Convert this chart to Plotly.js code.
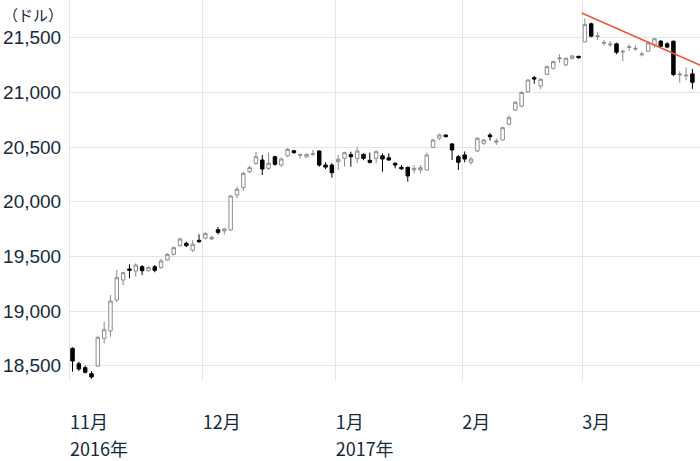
<!DOCTYPE html>
<html>
<head>
<meta charset="utf-8">
<script src="https://cdn.plot.ly/plotly-3.0.1.min.js"></script>
<style>html,body{margin:0;padding:0;background:#fff;}#chart{width:700px;height:461px;}</style>
</head>
<body>
<div id="chart"></div>
<script>
// Trading days (index = position on the axis)
const dates = [
 '2016-11-01','2016-11-02','2016-11-03','2016-11-04','2016-11-07','2016-11-08','2016-11-09','2016-11-10','2016-11-11',
 '2016-11-14','2016-11-15','2016-11-16','2016-11-17','2016-11-18','2016-11-21','2016-11-22','2016-11-23','2016-11-25',
 '2016-11-28','2016-11-29','2016-11-30',
 '2016-12-01','2016-12-02','2016-12-05','2016-12-06','2016-12-07','2016-12-08','2016-12-09','2016-12-12','2016-12-13',
 '2016-12-14','2016-12-15','2016-12-16','2016-12-19','2016-12-20','2016-12-21','2016-12-22','2016-12-23','2016-12-27',
 '2016-12-28','2016-12-29','2016-12-30',
 '2017-01-03','2017-01-04','2017-01-05','2017-01-06','2017-01-09','2017-01-10','2017-01-11','2017-01-12','2017-01-13',
 '2017-01-17','2017-01-18','2017-01-19','2017-01-20','2017-01-23','2017-01-24','2017-01-25','2017-01-26','2017-01-27',
 '2017-01-30','2017-01-31',
 '2017-02-01','2017-02-02','2017-02-03','2017-02-06','2017-02-07','2017-02-08','2017-02-09','2017-02-10','2017-02-13',
 '2017-02-14','2017-02-15','2017-02-16','2017-02-17','2017-02-21','2017-02-22','2017-02-23','2017-02-24','2017-02-27',
 '2017-02-28',
 '2017-03-01','2017-03-02','2017-03-03','2017-03-06','2017-03-07','2017-03-08','2017-03-09','2017-03-10','2017-03-13',
 '2017-03-14','2017-03-15','2017-03-16','2017-03-17','2017-03-20','2017-03-21','2017-03-22','2017-03-23','2017-03-24'
];
const open = [
 18659,18518,18482,18427,18497,18751,18818,19101,19284,
 19385,19366,19406,19369,19406,19397,19467,19519,19598,
 19620,19559,19647,
 19666,19659,19744,19733,19742,20062,20129,20275,20352,
 20382,20306,20412,20336,20419,20467,20425,20410,20435,
 20464,20336,20336,
 20367,20397,20431,20397,20434,20379,20397,20421,20403,
 20352,20315,20315,20291,20291,20291,20498,20581,20611,
 20529,20412,
 20428,20361,20464,20535,20611,20545,20565,20709,20839,
 20875,21006,21135,21059,21166,21221,21308,21252,21313,
 21331,
 21463,21628,21512,21450,21436,21445,21370,21412,21397,
 21345,21377,21433,21469,21445,21469,21160,21152,21170
];
const high = [
 18668,18537,18500,18450,18770,18903,19147,19376,19360,
 19428,19437,19421,19410,19420,19480,19530,19590,19671,
 19635,19650,19702,
 19720,19690,19770,19760,20060,20138,20275,20330,20458,
 20428,20450,20420,20405,20490,20472,20440,20440,20475,
 20470,20360,20352,
 20428,20458,20458,20504,20443,20450,20470,20443,20443,
 20360,20336,20321,20336,20336,20450,20575,20625,20615,
 20535,20428,
 20460,20410,20590,20575,20630,20580,20685,20790,20920,
 21010,21120,21150,21130,21245,21290,21350,21320,21340,
 21335,
 21679,21640,21550,21480,21470,21455,21393,21440,21430,
 21372,21465,21500,21480,21460,21475,21194,21230,21216
];
const low = [
 18445,18451,18430,18380,18490,18705,18765,19083,19238,
 19300,19314,19330,19360,19355,19385,19460,19510,19590,
 19585,19540,19625,
 19655,19650,19700,19700,19735,20032,20100,20260,20336,
 20245,20290,20330,20320,20410,20440,20395,20405,20415,
 20320,20300,20220,
 20290,20321,20321,20352,20380,20350,20352,20275,20375,
 20306,20290,20184,20260,20260,20285,20490,20565,20590,
 20382,20290,
 20360,20340,20455,20520,20560,20520,20560,20700,20830,
 20865,21000,21080,21030,21160,21210,21270,21240,21300,
 21310,
 21460,21505,21480,21430,21415,21350,21286,21380,21380,
 21330,21370,21410,21415,21405,21148,21088,21110,21033
];
const close = [
 18543,18470,18440,18397,18760,18829,19092,19305,19351,
 19373,19421,19369,19400,19373,19458,19519,19580,19659,
 19598,19611,19634,
 19711,19675,19720,19751,20053,20114,20260,20312,20412,
 20300,20352,20343,20391,20480,20449,20432,20434,20440,
 20336,20317,20266,
 20389,20449,20412,20464,20397,20361,20458,20391,20382,
 20336,20302,20236,20306,20312,20428,20565,20611,20595,
 20474,20361,
 20391,20391,20581,20565,20595,20555,20678,20769,20910,
 21001,21114,21123,21121,21236,21282,21315,21313,21334,
 21318,
 21621,21515,21518,21457,21442,21368,21375,21418,21403,
 21351,21454,21491,21423,21415,21164,21167,21158,21093
];

// Downward trend line (trading-day position, value)
const trendX = [80.5, 99.3];
const trendY = [21727, 21247];

// Month ticks and year ticks
const tickDates = ['2016-11-01','2016-12-01','2017-01-03','2017-02-01','2017-03-01'];
const tickText = ['11月','12月','1月','2月','3月'];
const yearDates = ['2016-11-01','2017-01-03'];
const yearText = ['2016年','2017年'];
const yTicks = [18500,19000,19500,20000,20500,21000,21500];
const yTickText = ['18,500','19,000','19,500','20,000','20,500','21,000','21,500'];

const xIdx = dates.map((d, i) => i);
const tickVals = tickDates.map(d => dates.indexOf(d) - 0.4);
const yearVals = yearDates.map(d => dates.indexOf(d) - 0.4);
const xRange = [-0.4, 99.2];
const tickFont = {family: '"Noto Sans CJK JP", "Noto Sans", sans-serif', size: 18, color: '#152a3c'};

const traces = [
  {
    type: 'candlestick',
    x: xIdx, open: open, high: high, low: low, close: close,
    increasing: {line: {color: '#8c8c8c', width: 1}, fillcolor: '#ffffff'},
    decreasing: {line: {color: '#000000', width: 1}, fillcolor: '#000000'},
    whiskerwidth: 0,
    showlegend: false,
    hoverinfo: 'skip'
  },
  {
    type: 'scatter', mode: 'lines',
    x: trendX, y: trendY,
    line: {color: '#f0553f', width: 1.6},
    showlegend: false, hoverinfo: 'skip'
  }
];

const layout = {
  width: 700, height: 461,
  margin: {l: 70, r: 0, t: 0, b: 80},
  paper_bgcolor: '#ffffff', plot_bgcolor: '#ffffff',
  boxgap: 0.22,
  showlegend: false,
  xaxis: {
    type: 'linear',
    range: xRange,
    tickvals: tickVals, ticktext: tickText,
    ticklabelposition: 'outside right',
    ticks: '', ticklabelstandoff: 29,
    showgrid: true, gridcolor: '#e6e6e6', gridwidth: 1,
    zeroline: false, showline: false,
    rangeslider: {visible: false},
    tickfont: tickFont
  },
  xaxis2: {
    type: 'linear',
    overlaying: 'x', side: 'bottom', anchor: 'y',
    range: xRange,
    tickvals: yearVals, ticktext: yearText,
    ticklabelposition: 'outside right',
    ticks: '', ticklabelstandoff: 56,
    showgrid: false, zeroline: false, showline: false,
    tickfont: tickFont
  },
  yaxis: {
    range: [18360, 21846],
    tickvals: yTicks, ticktext: yTickText,
    ticks: '', ticklabelstandoff: 4,
    showgrid: true, gridcolor: '#e6e6e6', gridwidth: 1,
    zeroline: false, showline: true, linecolor: '#e6e6e6', linewidth: 1,
    tickfont: {family: '"Liberation Sans", Arial, sans-serif', size: 19, color: '#152a3c'}
  },
  annotations: [{
    text: '（ドル）', xref: 'paper', yref: 'paper',
    x: -0.008, y: 0.962, xanchor: 'right', yanchor: 'middle',
    showarrow: false,
    font: {family: '"Noto Sans CJK JP", sans-serif', size: 15, color: '#152a3c'}
  }]
};

// invisible trace so the year axis is drawn
traces.push({type: 'scatter', x: [xRange[0]], y: [yTicks[0]], xaxis: 'x2', mode: 'markers',
  marker: {opacity: 0}, showlegend: false, hoverinfo: 'skip'});

Plotly.newPlot('chart', traces, layout, {displayModeBar: false, staticPlot: true});
</script>
</body>
</html>
